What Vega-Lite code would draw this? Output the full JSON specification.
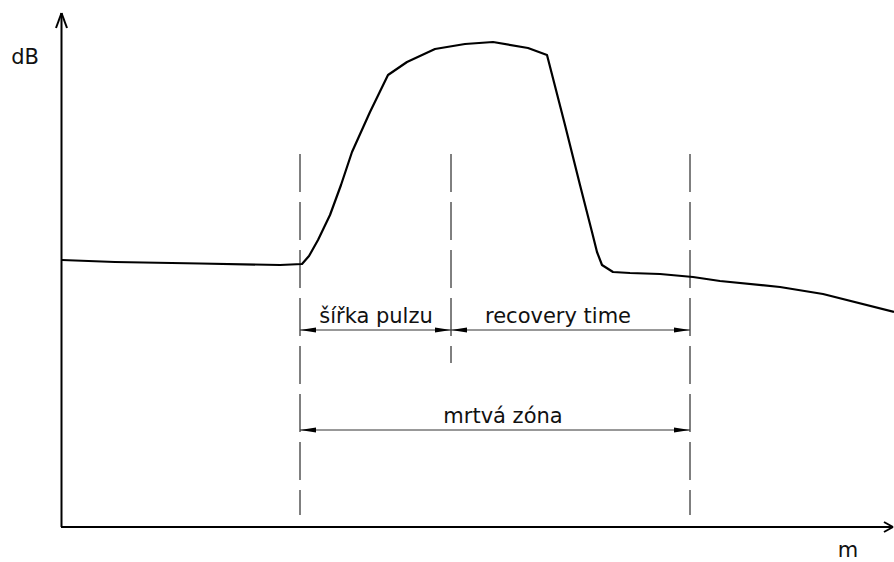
{
  "$schema": "https://vega.github.io/schema/vega-lite/v6.json",
  "autosize": "none",
  "width": 832,
  "height": 514,
  "padding": {"left": 62, "top": 13, "right": 0, "bottom": 35},
  "background": "white",
  "config": {"view": {"stroke": null}},
  "datasets": {
    "curve": [
      {"x": 62, "y": 267}, {"x": 115, "y": 265}, {"x": 200, "y": 263.5}, {"x": 280, "y": 262},
      {"x": 302, "y": 263}, {"x": 309, "y": 271}, {"x": 318, "y": 287}, {"x": 330, "y": 312},
      {"x": 341, "y": 342}, {"x": 352, "y": 375}, {"x": 370, "y": 415}, {"x": 388, "y": 452},
      {"x": 407, "y": 465}, {"x": 435, "y": 478}, {"x": 465, "y": 483}, {"x": 493, "y": 485},
      {"x": 528, "y": 479}, {"x": 547, "y": 472}, {"x": 565, "y": 402}, {"x": 580, "y": 342},
      {"x": 592, "y": 295}, {"x": 597, "y": 275}, {"x": 602, "y": 262}, {"x": 613, "y": 255},
      {"x": 630, "y": 254}, {"x": 660, "y": 253}, {"x": 693, "y": 250}, {"x": 720, "y": 246},
      {"x": 780, "y": 240}, {"x": 823, "y": 233}, {"x": 894, "y": 215}
    ],
    "axes": [
      {"x": 61.5, "y": 0, "x2": 61.5, "y2": 514},
      {"x": 61, "y": 0, "x2": 893, "y2": 0},
      {"x": 56, "y": 499, "x2": 61.5, "y2": 514},
      {"x": 67, "y": 499, "x2": 61.5, "y2": 514},
      {"x": 884, "y": 5, "x2": 893, "y2": 0},
      {"x": 884, "y": -5, "x2": 893, "y2": 0}
    ],
    "dashes": [
      {"x": 300, "y": 373, "y2": 12},
      {"x": 451, "y": 373, "y2": 164},
      {"x": 690, "y": 373, "y2": 12}
    ],
    "dims": [
      {"x": 300, "x2": 451, "y": 197},
      {"x": 451, "x2": 690, "y": 197},
      {"x": 300, "x2": 690, "y": 97}
    ],
    "heads": [
      {"x": 300, "y": 197, "dir": "left"},
      {"x": 451, "y": 197, "dir": "right"},
      {"x": 451, "y": 197, "dir": "left"},
      {"x": 690, "y": 197, "dir": "right"},
      {"x": 300, "y": 97, "dir": "left"},
      {"x": 690, "y": 97, "dir": "right"}
    ],
    "labels": [
      {"x": 25, "y": 463, "label": "dB"},
      {"x": 848, "y": -30, "label": "m"},
      {"x": 376, "y": 204, "label": "šířka pulzu"},
      {"x": 558, "y": 204, "label": "recovery time"},
      {"x": 503, "y": 104, "label": "mrtvá zóna"}
    ]
  },
  "layer": [
    {
      "data": {"name": "axes"},
      "mark": {"type": "rule", "color": "black", "strokeWidth": 2, "clip": false},
      "encoding": {
        "x": {"field": "x", "type": "quantitative", "scale": {"domain": [62, 894], "zero": false, "nice": false}, "axis": null},
        "y": {"field": "y", "type": "quantitative", "scale": {"domain": [0, 514], "zero": false, "nice": false}, "axis": null},
        "x2": {"field": "x2"},
        "y2": {"field": "y2"}
      }
    },
    {
      "data": {"name": "dashes"},
      "mark": {"type": "rule", "color": "black", "strokeWidth": 1, "strokeDash": [38, 10], "clip": false},
      "encoding": {
        "x": {"field": "x", "type": "quantitative"},
        "y": {"field": "y", "type": "quantitative"},
        "y2": {"field": "y2"}
      }
    },
    {
      "data": {"name": "dims"},
      "mark": {"type": "rule", "color": "#333333", "strokeWidth": 1, "clip": false},
      "encoding": {
        "x": {"field": "x", "type": "quantitative"},
        "x2": {"field": "x2"},
        "y": {"field": "y", "type": "quantitative"}
      }
    },
    {
      "data": {"name": "heads"},
      "mark": {"type": "point", "filled": true, "color": "black", "opacity": 1, "size": 256, "strokeWidth": 0, "clip": false},
      "encoding": {
        "x": {"field": "x", "type": "quantitative"},
        "y": {"field": "y", "type": "quantitative"},
        "shape": {"field": "dir", "type": "nominal", "legend": null,
          "scale": {"domain": ["left", "right"], "range": ["M0,0L2,-0.3L2,0.3Z", "M0,0L-2,-0.3L-2,0.3Z"]}}
      }
    },
    {
      "data": {"name": "curve"},
      "mark": {"type": "line", "color": "black", "strokeWidth": 2.2, "clip": false, "strokeJoin": "round"},
      "encoding": {
        "x": {"field": "x", "type": "quantitative"},
        "y": {"field": "y", "type": "quantitative"}
      }
    },
    {
      "data": {"name": "labels"},
      "mark": {"type": "text", "font": "DejaVu Sans", "fontSize": 21, "color": "#111111", "align": "center", "baseline": "alphabetic", "clip": false},
      "encoding": {
        "x": {"field": "x", "type": "quantitative"},
        "y": {"field": "y", "type": "quantitative"},
        "text": {"field": "label"}
      }
    }
  ]
}
